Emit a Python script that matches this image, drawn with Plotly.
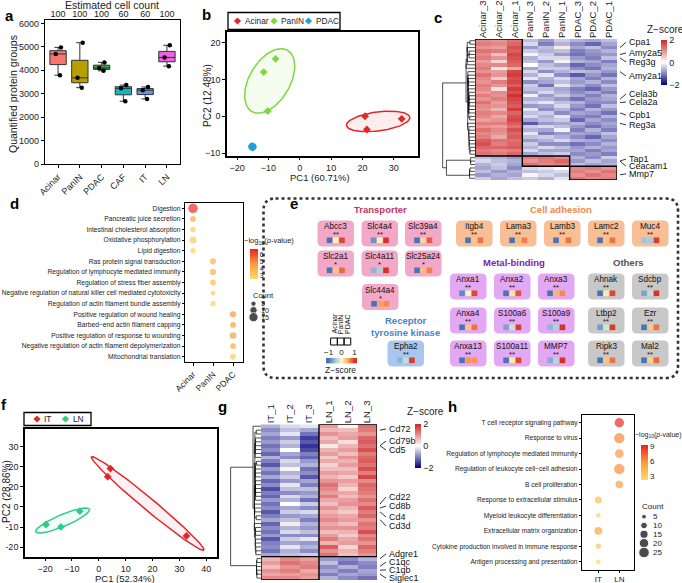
import numpy as np
import plotly.graph_objects as go

W, H = 682, 583
FONT = "Liberation Sans, Arial, Helvetica, sans-serif"

# ======================= DATA =======================
# (a) quantified protein groups
cell_types = ["Acinar", "PanIN", "PDAC", "CAF", "IT", "LN"]
cell_counts = ["100", "100", "100", "60", "60", "100"]
pg_acinar = [3790, 4700, 4980]
pg_panin = [3260, 3680, 5180]
pg_pdac = [3980, 4100, 4340]
pg_caf = [2680, 3230, 3370]
pg_it = [2780, 3150, 3290]
pg_ln = [4180, 4550, 5070]

# (b) PCA Acinar / PanIN / PDAC
b_groups = ["Acinar", "PanIN", "PDAC"]
b_pc1_acinar = [20.8, 21.4, 32.5]
b_pc2_acinar = [0.0, -3.6, -0.7]
b_pc1_panin = [-7.7, -11.5, -10.2]
b_pc2_panin = [15.6, 12.0, 1.4]
b_pc1_pdac = [-15.3, -15.0, -14.9]
b_pc2_pdac = [-8.1, -8.5, -8.2]
b_ell_center = [(25.0, -1.4), (-9.6, 9.6), (-15.1, -8.3)]
b_ell_u = [(10.1, 1.0), (8.0, 4.0), (1.1, 0.0)]
b_ell_v = [(0.0, 2.6), (0.0, 7.8), (0.0, 0.9)]

# (c) heatmap z-scores (rows x samples)
c_samples = ["Acinar_3", "Acinar_2", "Acinar_1", "PanIN_3", "PanIN_2", "PanIN_1", "PDAC_3", "PDAC_2", "PDAC_1"]
heat_c = [
    [1.1, 1.0, 1.3, -0.5, -0.8, -0.4, -0.6, -0.7, -0.5],
    [1.2, 1.1, 1.4, -0.3, -1.0, -0.6, -0.9, -1.2, -0.7],
    [1.0, 0.9, 1.6, -0.8, -0.5, 0.2, -0.7, -0.5, -0.9],
    [1.3, 1.2, 1.5, -0.4, -0.6, -0.5, -1.0, -0.8, -0.6],
    [1.1, 0.6, 1.7, -0.1, -0.4, -0.8, -1.1, -0.9, -0.8],
    [1.2, 1.0, 1.6, -0.6, -0.3, -0.3, -0.8, -1.0, -0.5],
    [0.9, 0.4, 1.5, -0.5, -0.8, -0.1, -0.6, -0.7, -1.0],
    [1.1, 1.1, 1.4, 0.0, -0.5, -0.7, -1.2, -0.9, -0.7],
    [1.2, 0.2, 0.8, -0.7, -0.4, -0.4, -0.9, -1.1, -0.6],
    [1.0, 0.9, 1.7, -0.3, -0.9, -0.6, -0.5, -0.6, -0.8],
    [1.3, 1.0, 1.8, -0.6, -0.2, -0.9, -1.3, -0.8, -1.1],
    [1.1, 0.5, 1.6, -0.2, -0.6, -0.3, -0.7, -1.0, -0.6],
    [1.0, 1.2, 1.7, -0.9, -0.7, -0.5, -0.8, -0.6, -0.9],
    [1.2, 1.0, 1.5, -0.4, -1.1, -0.2, -0.6, -0.9, -0.5],
    [1.1, 0.3, 1.8, -0.5, -0.5, -0.7, -1.0, -1.2, -0.8],
    [0.9, 1.1, 1.6, -0.7, -0.3, -0.6, -0.9, -0.7, -1.0],
    [1.2, 1.0, 1.9, -0.1, -0.8, -0.4, -0.7, -1.0, -0.6],
    [1.0, 1.2, 1.7, -0.6, -0.6, -0.8, -1.1, -0.8, -0.7],
    [1.3, 0.9, 1.6, -0.4, -0.2, -0.5, -0.6, -0.9, -0.9],
    [1.1, 1.0, 1.5, -0.8, -0.7, -0.3, -0.8, -1.1, -0.5],
    [1.0, 0.7, 1.8, -0.2, -0.9, -0.6, -1.0, -0.6, -0.8],
    [1.2, 1.1, 1.4, -0.5, -0.4, -0.9, -0.7, -0.8, -1.1],
    [1.1, 0.8, 1.6, -0.3, -0.6, -0.2, -0.9, -1.0, -0.6],
    [0.9, 1.0, 1.7, -0.7, -0.5, -0.4, -1.2, -0.7, -0.9],
    [1.2, 1.2, 1.5, -1.3, -0.8, -0.7, -0.6, -0.9, -0.7],
    [1.0, 0.9, 1.3, -0.4, -0.3, -0.5, -0.8, -1.1, -0.8],
    [1.3, 1.1, 1.6, -0.6, -0.7, -0.1, -1.0, -0.6, -1.0],
    [1.1, 1.0, 1.4, -0.2, -1.0, -0.8, -0.7, -0.8, -0.5],
    [1.2, 0.8, 1.5, -0.5, -0.4, -0.6, -0.9, -1.2, -0.7],
    [1.5, 1.3, 1.3, -0.8, -0.6, -0.3, -0.6, -0.7, -0.9],
    [1.6, 1.2, 1.4, -0.4, -0.9, -0.9, -1.1, -0.9, -0.6],
    [1.4, 1.4, 1.5, -0.6, -0.3, -0.5, -0.8, -0.6, -0.8],
    [1.2, 1.1, 1.2, -0.3, -0.7, -0.7, -0.7, -1.0, -0.7],
    [1.3, 1.2, 1.4, -0.7, -0.5, -0.4, -0.9, -0.8, -1.0],
    [-0.5, -0.6, -0.8, 1.2, 1.3, 1.1, -0.6, -0.9, -0.4],
    [-0.3, -0.5, -0.6, 1.0, 1.2, 1.4, -0.8, -0.5, -0.7],
    [-0.6, -0.4, -0.7, 1.3, 1.1, 1.2, -0.5, -0.7, -0.6],
    [-0.7, -0.5, -0.9, -0.3, -0.2, 0.0, 1.1, 1.2, 1.0],
    [-0.5, -0.8, -0.6, -0.5, -0.4, -0.3, 1.2, 1.0, 1.3],
    [-0.8, -0.6, -0.7, 0.1, -0.3, -0.5, 1.0, 1.3, 1.1],
    [-0.4, -0.7, -0.5, -0.4, -0.6, -0.2, 1.3, 1.1, 1.2],
]
c_genes = ["Cpa1", "Amy2a5", "Reg3g", "Amy2a1", "Cela3b", "Cela2a", "Cpb1", "Reg3a", "Tap1", "Ceacam1", "Mmp7"]
c_gene_rows = [2, 4, 5, 9, 17, 18, 21, 24, 35, 35, 39]
c_cluster_rows = [34, 3, 4]          # Acinar, PanIN, PDAC up-regulated blocks

# (d) enrichment dot plot
d_terms = ["Digestion", "Pancreatic juice secretion", "Intestinal cholesterol absorption",
           "Oxidative phosphorylation", "Lipid digestion", "Ras protein signal transduction",
           "Regulation of lymphocyte mediated immunity", "Regulation of stress fiber assembly",
           "Negative regulation of natural killer cell mediated cytotoxicity",
           "Regulation of actin filament bundle assembly", "Positive regulation of wound healing",
           "Barbed\u2212end actin filament capping", "Positive regulation of response to wounding",
           "Negative regulation of actin filament depolymerization", "Mitochondrial translation"]
d_group = ["Acinar", "Acinar", "Acinar", "Acinar", "Acinar", "PanIN", "PanIN", "PanIN", "PanIN", "PanIN",
           "PDAC", "PDAC", "PDAC", "PDAC", "PDAC"]
d_logp = [6.6, 4.2, 3.3, 3.2, 2.9, 4.0, 4.0, 3.6, 3.2, 3.0, 4.8, 4.6, 4.6, 4.2, 3.2]
d_count = [16, 6, 5, 9, 5, 7, 7, 6, 4, 5, 7, 6, 8, 6, 6]
d_count_legend = [5, 10, 15]

# (e) marker proteins: z-scores in Acinar / PanIN / PDAC
e_genes = ["Abcc3", "Slc4a4", "Slc39a4", "Slc2a1", "Slc4a11", "Slc25a24", "Slc44a4", "Epha2",
           "Itgb4", "Lama3", "Lamb3", "Lamc2", "Muc4",
           "Anxa1", "Anxa2", "Anxa3", "Anxa4", "S100a6", "S100a9", "Anxa13", "S100a11", "MMP7",
           "Ahnak", "Sdcbp", "Ltbp2", "Ezr", "Ripk3", "Mal2"]
e_signif = ["**", "**", "**", "*", "*", "*", "*", "**",
            "**", "**", "**", "**", "**",
            "**", "**", "**", "**", "**", "**", "**", "**", "**",
            "**", "**", "**", "**", "**", "**"]
e_acinar = [-1.0, -0.8, -1.0, -1.0, -0.6, -1.0, -1.1, -0.6,
            -1.0, -1.0, -1.0, -1.0, -0.5,
            -0.85, -1.0, -1.0, -1.0, -0.7, -0.6, -1.1, -1.0, -0.65,
            -1.0, -0.7, -0.75, -1.0, -1.0, -1.0]
e_panin = [0.05, 0.05, 0.2, 0.3, -0.4, 0.35, 0.5, -0.3,
           0.3, 0.35, 0.3, 0.3, -0.45,
           -0.05, 0.15, 0.4, 0.3, -0.25, -0.4, 0.55, 0.1, -0.35,
           0.1, -0.3, -0.2, 0.3, 0.3, 0.25]
e_pdac = [0.9, 1.0, 0.8, 0.75, 1.0, 0.65, 0.6, 0.95,
          0.7, 0.65, 0.7, 0.7, 0.95,
          0.9, 0.85, 0.6, 0.7, 0.95, 1.0, 0.55, 0.9, 1.0,
          0.9, 1.0, 0.95, 0.7, 0.7, 0.75]
e_class = ["Transporter"] * 7 + ["Receptor tyrosine kinase"] + ["Cell adhesion"] * 5 + \
          ["Metal-binding"] * 9 + ["Others"] * 6

# (f) PCA IT / LN
f_groups = ["IT", "LN"]
f_pc1_it = [4.3, 3.3, 32.6]
f_pc2_it = [19.0, 15.0, -14.4]
f_pc1_ln = [-19.7, -14.1, -7.1]
f_pc2_ln = [-8.7, -9.9, -2.1]
f_ell_center = [(18.2, 1.7), (-13.5, -6.75)]
f_ell_u = [(20.9, -23.1), (10.0, 5.6)]
f_ell_v = [(1.4, 2.3), (-0.87, 2.7)]
f_yticktext = ["-20", "-10", "0", "20", "20", "30"]

# (g) heatmap IT / LN
g_samples = ["IT_1", "IT_2", "IT_3", "LN_1", "LN_2", "LN_3"]
heat_g = [
    [-0.6, -0.3, -0.2, 0.9, 0.1, 1.3],
    [-0.9, -0.5, -0.7, 0.7, 0.6, 1.2],
    [-0.7, -0.2, -1.1, 1.0, 0.8, 1.0],
    [-1.0, -0.8, -1.5, 0.6, 0.9, 1.4],
    [-0.8, -0.4, -1.3, 0.8, 0.3, 1.5],
    [-1.1, -0.6, -1.6, 0.2, 0.7, 1.3],
    [-0.9, 0.0, -1.4, 0.7, 0.9, 1.6],
    [-1.2, -0.7, -1.0, 0.9, 0.6, 1.2],
    [-0.6, -0.9, -1.2, 0.5, 1.0, 1.4],
    [-1.0, -0.3, -0.8, 0.8, 0.7, 1.5],
    [-1.3, -0.5, -0.6, 0.4, 0.9, 1.3],
    [-0.8, 0.1, -1.1, 0.6, 0.6, 1.6],
    [-1.1, -0.6, -0.9, 0.9, 0.8, 1.2],
    [-0.7, -0.4, -1.3, 0.7, 0.5, 1.7],
    [-1.2, -0.8, -0.7, 1.0, 0.9, 1.1],
    [-0.9, -0.2, -1.0, 1.3, 0.7, 1.4],
    [-1.4, -0.5, -0.5, 1.1, 0.4, 1.3],
    [-1.0, -0.9, -0.8, 0.9, 0.8, 1.2],
    [-1.2, -0.3, -0.6, 1.2, 0.6, 1.0],
    [-0.8, -0.6, -1.1, 0.8, 0.9, 1.3],
    [-1.1, 0.0, -0.4, 0.6, 1.0, 1.1],
    [-0.9, -0.7, -0.9, 1.0, 0.7, 1.5],
    [-1.3, -0.4, -0.3, 0.7, 0.5, 1.2],
    [-1.0, -0.8, -0.7, 0.9, 0.8, 1.4],
    [-0.7, -0.5, -1.0, 1.1, 0.9, 1.0],
    [-1.2, 0.2, -0.6, 0.8, 0.6, 1.3],
    [-0.9, -0.6, -0.8, 1.0, 1.0, 1.2],
    [-1.1, -0.3, -0.5, 0.6, 0.7, 1.6],
    [-0.8, -0.9, -0.9, 0.9, 0.5, 1.1],
    [-1.3, -0.4, -0.2, 1.2, 0.8, 1.3],
    [-1.0, -0.7, -0.8, 0.7, 0.9, 1.0],
    [-0.9, -0.2, -0.6, 1.5, 0.4, 1.4],
    [-1.1, -0.6, -0.9, 1.0, 0.7, 1.2],
    [-0.7, -0.5, -0.4, 1.3, 0.6, 1.0],
    [0.7, 1.1, 0.9, -0.8, -0.9, -0.6],
    [0.9, 1.3, 1.1, -0.5, -1.1, -0.9],
    [0.6, 1.0, 1.2, -0.9, -0.6, -1.0],
    [1.0, 1.2, 0.8, -0.7, -1.0, -0.7],
    [0.8, 0.9, 1.0, -1.0, -0.7, -0.8],
    [1.1, 1.1, 0.9, -0.6, -0.9, -1.1],
]
g_genes = ["Cd72", "Cd79b", "Cd5", "Cd22", "Cd8b", "Cd4", "Cd3d", "Adgre1", "C1qc", "C1qb", "Siglec1"]
g_gene_rows = [1, 5, 5, 20, 21, 22, 24, 34, 36, 37, 38]
g_cluster_rows = [34, 6]             # LN up (top), IT up (bottom)

# (h) enrichment dot plot IT / LN
h_terms = ["T cell receptor signaling pathway", "Response to virus",
           "Regulation of lymphocyte mediated immunity", "Regulation of leukocyte cell\u2212cell adhesion",
           "B cell proliferation", "Response to extracellular stimulus", "Myeloid leukocyte differentiation",
           "Extracellular matrix organization", "Cytokine production involved in immune response",
           "Antigen processing and presentation"]
h_group = ["LN", "LN", "LN", "LN", "LN", "IT", "IT", "IT", "IT", "IT"]
h_logp = [9.0, 6.3, 5.8, 6.1, 5.5, 3.9, 2.9, 5.3, 3.4, 2.6]
h_count = [20, 24, 17, 25, 13, 11, 5, 14, 7, 5]
h_count_legend = [5, 10, 15, 20, 25]

# ======================= HELPERS =======================
def dx(l, r):
    return [l / W, r / W]


def dy(t, b):
    return [1 - b / H, 1 - t / H]


def rgba(hexc, a):
    h = hexc.lstrip("#")
    return f"rgba({int(h[0:2], 16)},{int(h[2:4], 16)},{int(h[4:6], 16)},{a})"


ann = []
shapes = []


def text(x, y, s, size=9, color="#222222", bold=False, xanchor="center", yanchor="middle", angle=0, xref="x12", yref="y12"):
    if bold:
        s = f"<b>{s}</b>"
    ann.append(dict(x=x, y=y, xref=xref, yref=yref, text=s, showarrow=False,
                    font=dict(family=FONT, size=size, color=color),
                    xanchor=xanchor, yanchor=yanchor, textangle=angle))


def rrect(x0, y0, x1, y1, r):
    return (f"M{x0 + r},{y0} L{x1 - r},{y0} Q{x1},{y0} {x1},{y0 + r} L{x1},{y1 - r} Q{x1},{y1} {x1 - r},{y1} "
            f"L{x0 + r},{y1} Q{x0},{y1} {x0},{y1 - r} L{x0},{y0 + r} Q{x0},{y0} {x0 + r},{y0} Z")


def dendro(Z):
    Z = np.asarray(Z, float)
    n = len(Z)
    D = np.sqrt(((Z[:, None, :] - Z[None, :, :]) ** 2).sum(-1))
    clusters = [([i], float(i), 0.0) for i in range(n)]
    xs, ys = [], []
    while len(clusters) > 1:
        bk, bd = 0, np.inf
        for k in range(len(clusters) - 1):
            d = D[np.ix_(clusters[k][0], clusters[k + 1][0])].mean()
            if d < bd:
                bk, bd = k, d
        a, b = clusters[bk], clusters[bk + 1]
        h = max(bd, a[2], b[2])
        xs += [a[2], h, h, b[2], None]
        ys += [a[1], a[1], b[1], b[1], None]
        clusters[bk:bk + 2] = [(a[0] + b[0], (a[1] + b[1]) / 2, h)]
    return xs, ys, clusters[0][2]


def frame_axis(**kw):
    base = dict(showline=True, linecolor="black", linewidth=1.3, mirror=True, ticks="outside", ticklen=3,
                tickwidth=1, tickcolor="black", showgrid=False, zeroline=False,
                tickfont=dict(family=FONT, size=9, color="#222222"))
    base.update(kw)
    return base


hidden = dict(visible=False, showgrid=False, zeroline=False)
hm_scale = [[0, "#000080"], [0.5, "#FFFFFF"], [1, "#CD2626"]]
dot_scale = [[0, "#FFDA6A"], [0.5, "#FB9A3C"], [1, "#EE1F1F"]]
e_scale = [[0, "#4575B4"], [0.25, "#9CC5E3"], [0.5, "#FFFBC2"], [0.75, "#FCA05A"], [1, "#D73027"]]

fig = go.Figure()

# ======================= (a) =======================
box_cols = ["#F8766D", "#B79F00", "#2EA84A", "#13B8BC", "#5F96F0", "#EE63E0"]
pg_all = [pg_acinar, pg_panin, pg_pdac, pg_caf, pg_it, pg_ln]
for name, vals, col in zip(cell_types, pg_all, box_cols):
    fig.add_trace(go.Box(x=[name] * len(vals), y=vals, fillcolor=col, line=dict(color="#333333", width=1),
                         boxpoints="all", jitter=0.45, pointpos=0, marker=dict(color="black", size=4.5),
                         width=0.75, whiskerwidth=0.45, quartilemethod="inclusive",
                         xaxis="x", yaxis="y", showlegend=False, hoverinfo="skip"))
fig.add_trace(go.Scatter(x=list(range(len(cell_types))), y=[0] * len(cell_types), xaxis="x2", yaxis="y",
                         mode="markers", marker=dict(opacity=0), showlegend=False, hoverinfo="skip"))

# ======================= (b) =======================
b_cols = ["#E3262B", "#7DD83F", "#1FA0D8"]
b_pc1 = [b_pc1_acinar, b_pc1_panin, b_pc1_pdac]
b_pc2 = [b_pc2_acinar, b_pc2_panin, b_pc2_pdac]
t = np.linspace(0, 2 * np.pi, 120)
for i, col in enumerate(b_cols):
    c, u, v = b_ell_center[i], b_ell_u[i], b_ell_v[i]
    fig.add_trace(go.Scatter(x=c[0] + u[0] * np.cos(t) + v[0] * np.sin(t),
                             y=c[1] + u[1] * np.cos(t) + v[1] * np.sin(t),
                             mode="lines", line=dict(color=col, width=1.5), fill="toself",
                             fillcolor=rgba(col, 0.08), xaxis="x3", yaxis="y3", showlegend=False, hoverinfo="skip"))
for i, col in enumerate(b_cols):
    fig.add_trace(go.Scatter(x=b_pc1[i], y=b_pc2[i], mode="markers",
                             marker=dict(symbol="diamond", size=6, color=col),
                             xaxis="x3", yaxis="y3", showlegend=False, hoverinfo="skip"))
# manual legend for b
shapes.append(dict(type="rect", xref="x12", yref="y12", x0=228, x1=340, y0=12.5, y1=29.5,
                   line=dict(color="black", width=1.3)))
b_leg_x = [237.5, 274, 308.5]
fig.add_trace(go.Scatter(x=b_leg_x, y=[21] * 3, mode="markers", marker=dict(symbol="diamond", size=5.5, color=b_cols),
                         xaxis="x12", yaxis="y12", showlegend=False, hoverinfo="skip"))
for xx, g in zip(b_leg_x, b_groups):
    text(xx + 5, 21, g, size=8.3, xanchor="left")

# ======================= (c) =======================
nc = len(heat_c)
fig.add_trace(go.Heatmap(z=heat_c, x=list(range(len(c_samples))), y=list(range(nc)), colorscale=hm_scale,
                         zmin=-2, zmax=2, xaxis="x4", yaxis="y4", hoverinfo="skip",
                         colorbar=dict(x=661 / W, xanchor="left", y=1 - 62.5 / H, yanchor="middle", len=45,
                                       lenmode="pixels", thickness=6, xpad=0, ypad=0, outlinewidth=0,
                                       tickvals=[-2, 0, 2], ticks="", tickfont=dict(family=FONT, size=9))))
dxs, dys, hmax_c = dendro(heat_c)
fig.add_trace(go.Scatter(x=dxs, y=dys, mode="lines", line=dict(color="black", width=0.7),
                         xaxis="x5", yaxis="y5", showlegend=False, hoverinfo="skip"))
r0 = -0.5
for k, nr in enumerate(c_cluster_rows):
    shapes.append(dict(type="rect", xref="x4", yref="y4", x0=3 * k - 0.5, x1=3 * k + 2.5, y0=r0, y1=r0 + nr,
                       line=dict(color="black", width=1.4)))
    r0 += nr
c_label_y = [0.46, 3.57, 6.19, 10.26, 15.49, 17.82, 21.6, 24.5, 34.4, 36.5, 38.7]
for gname, gr, ly in zip(c_genes, c_gene_rows, c_label_y):
    shapes.append(dict(type="line", xref="paper", yref="y4", x0=620 / W, x1=626 / W, y0=gr, y1=ly,
                       line=dict(color="black", width=0.8)))
    text(627 / W, ly, gname, size=9, xanchor="left", xref="paper", yref="y4", color="#111111")
text(665, 29.5, "Z\u2212score", size=10)

# ======================= (d) =======================
fig.add_trace(go.Scatter(x=d_group, y=d_terms, mode="markers", xaxis="x6", yaxis="y6", showlegend=False,
                         hoverinfo="skip",
                         marker=dict(color=d_logp, colorscale=dot_scale, cmin=2.62, cmax=6.83, size=d_count,
                                     sizemode="area", sizeref=0.355, sizemin=1, line=dict(width=0),
                                     colorbar=dict(x=250 / W, xanchor="left", y=1 - 263.8 / H, yanchor="middle",
                                                   len=30, lenmode="pixels", thickness=8, xpad=0, ypad=0,
                                                   outlinewidth=0, tickvals=[3, 4, 5, 6], ticks="",
                                                   tickfont=dict(family=FONT, size=6.8)))))
text(242, 241, "\u2212log<sub>10</sub>(<i>p</i>-value)", size=7.5, xanchor="left")
text(251, 295, "Count", size=7.5, xanchor="left")
d_leg_y = [303.7, 310.2, 317.2]
fig.add_trace(go.Scatter(x=[253.5] * 3, y=d_leg_y, mode="markers", xaxis="x12", yaxis="y12", showlegend=False,
                         hoverinfo="skip",
                         marker=dict(color="black", size=d_count_legend, sizemode="area", sizeref=0.355, sizemin=1)))
for yy, cc in zip(d_leg_y, d_count_legend):
    text(259, yy, str(cc), size=7.2, xanchor="left")

# ======================= (e) =======================
e_box_x0 = [317.5, 361.5, 405, 317.5, 361.5, 405, 362, 387.5,
            456, 500, 544, 588, 632,
            450, 494, 538, 450, 494, 538, 450, 494, 538,
            588, 632, 588, 632, 588, 632]
e_box_y0 = [220.5, 220.5, 220.5, 250.5, 250.5, 250.5, 284, 340.5,
            220.5, 220.5, 220.5, 220.5, 220.5,
            273.5, 273.5, 273.5, 307.5, 307.5, 307.5, 340.5, 340.5, 340.5,
            273.5, 273.5, 307.5, 307.5, 340.5, 340.5]
e_fill = {"Transporter": "#F4A8C8", "Receptor tyrosine kinase": "#A9C6EE", "Cell adhesion": "#F8BE95",
          "Metal-binding": "#E2A8F3", "Others": "#C8C8C8"}
bw, bh = 36.5, 26
sq_x, sq_y, sq_v = [], [], []
for i, gname in enumerate(e_genes):
    x0, y0 = e_box_x0[i], e_box_y0[i]
    shapes.append(dict(type="path", xref="x12", yref="y12", path=rrect(x0, y0, x0 + bw, y0 + bh, 5),
                       fillcolor=e_fill[e_class[i]], line=dict(width=0), layer="below"))
    cx = x0 + bw / 2
    text(cx, y0 + 6.3, gname, size=8.2, color="#111111")
    text(cx, y0 + 14.4, e_signif[i], size=7.6, color="#111111")
    for j, v in enumerate([e_acinar[i], e_panin[i], e_pdac[i]]):
        sq_x.append(cx + (j - 1) * 6.2)
        sq_y.append(y0 + 19.8)
        sq_v.append(v)
fig.add_trace(go.Scatter(x=sq_x, y=sq_y, mode="markers", xaxis="x12", yaxis="y12", showlegend=False,
                         hoverinfo="skip",
                         marker=dict(symbol="square", size=5.6, color=sq_v, colorscale=e_scale, cmin=-1, cmax=1,
                                     line=dict(width=0))))
shapes.append(dict(type="path", xref="x12", yref="y12", path=rrect(263.5, 198.5, 678, 378, 12),
                   line=dict(color="#333333", width=2.6, dash="dot"), layer="below"))
text(380, 209, "Transporter", size=9.5, color="#C7345E", bold=True)
text(561, 209, "Cell adhesion", size=9.5, color="#EE8A45", bold=True)
text(514, 262, "Metal-binding", size=9.5, color="#7D22B0", bold=True)
text(628, 262, "Others", size=9.5, color="#555555", bold=True)
text(405, 326, "Receptor<br>tyrosine kinase", size=9.5, color="#4A7FC8", bold=True)
# e legend
for j, g in enumerate(b_groups):
    xx = 334 + j * 6.7
    shapes.append(dict(type="rect", xref="x12", yref="y12", x0=xx - 3.35, x1=xx + 3.35, y0=338, y1=345,
                       line=dict(color="black", width=1)))
    text(xx, 336, g, size=7, angle=-90, yanchor="bottom", color="#111111")
grad_x = np.linspace(-1.2, 1.2, 60)
fig.add_trace(go.Heatmap(z=[grad_x], x=grad_x, y=[0], colorscale=e_scale, zmin=-1, zmax=1, showscale=False,
                         xaxis="x11", yaxis="y11", hoverinfo="skip"))
text(340, 370, "Z\u2212score", size=8.5)

# ======================= (f) =======================
f_cols = ["#E3262B", "#2ECC85"]
f_pc1 = [f_pc1_it, f_pc1_ln]
f_pc2 = [f_pc2_it, f_pc2_ln]
for i, col in enumerate(f_cols):
    c, u, v = f_ell_center[i], f_ell_u[i], f_ell_v[i]
    fig.add_trace(go.Scatter(x=c[0] + u[0] * np.cos(t) + v[0] * np.sin(t),
                             y=c[1] + u[1] * np.cos(t) + v[1] * np.sin(t),
                             mode="lines", line=dict(color=col, width=1.5), fill="toself",
                             fillcolor=rgba(col, 0.06), xaxis="x7", yaxis="y7", showlegend=False, hoverinfo="skip"))
for i, col in enumerate(f_cols):
    fig.add_trace(go.Scatter(x=f_pc1[i], y=f_pc2[i], mode="markers",
                             marker=dict(symbol="diamond", size=6, color=col),
                             xaxis="x7", yaxis="y7", showlegend=False, hoverinfo="skip"))
shapes.append(dict(type="rect", xref="x12", yref="y12", x0=24, x1=91, y0=412.5, y1=425.5,
                   line=dict(color="black", width=1.3)))
f_leg_x = [37, 65.5]
fig.add_trace(go.Scatter(x=f_leg_x, y=[419] * 2, mode="markers", marker=dict(symbol="diamond", size=5.5, color=f_cols),
                         xaxis="x12", yaxis="y12", showlegend=False, hoverinfo="skip"))
for xx, g in zip(f_leg_x, f_groups):
    text(xx + 5, 419, g, size=8.3, xanchor="left")

# ======================= (g) =======================
ng = len(heat_g)
fig.add_trace(go.Heatmap(z=heat_g, x=list(range(len(g_samples))), y=list(range(ng)), colorscale=hm_scale,
                         zmin=-2, zmax=2, xaxis="x8", yaxis="y8", hoverinfo="skip",
                         colorbar=dict(x=415 / W, xanchor="left", y=1 - 446 / H, yanchor="middle", len=44,
                                       lenmode="pixels", thickness=6, xpad=0, ypad=0, outlinewidth=0,
                                       tickvals=[-2, 0, 2], ticks="", tickfont=dict(family=FONT, size=9))))
gxs, gys, hmax_g = dendro(heat_g)
fig.add_trace(go.Scatter(x=gxs, y=gys, mode="lines", line=dict(color="black", width=0.7),
                         xaxis="x9", yaxis="y9", showlegend=False, hoverinfo="skip"))
shapes.append(dict(type="rect", xref="x8", yref="y8", x0=2.5, x1=5.5, y0=-0.5, y1=-0.5 + g_cluster_rows[0],
                   line=dict(color="black", width=1.4)))
shapes.append(dict(type="rect", xref="x8", yref="y8", x0=-0.5, x1=2.5, y0=-0.5 + g_cluster_rows[0],
                   y1=-0.5 + g_cluster_rows[0] + g_cluster_rows[1], line=dict(color="black", width=1.4)))
g_label_y = [0.71, 3.79, 6.1, 18.18, 20.5, 23.3, 25.6, 32.8, 34.9, 36.9, 39.0]
for gname, gr, ly in zip(g_genes, g_gene_rows, g_label_y):
    shapes.append(dict(type="line", xref="paper", yref="y8", x0=380 / W, x1=386 / W, y0=gr, y1=ly,
                       line=dict(color="black", width=0.8)))
    text(387 / W, ly, gname, size=9, xanchor="left", xref="paper", yref="y8", color="#111111")
text(405, 411, "Z\u2212score", size=10, xanchor="left")

# ======================= (h) =======================
fig.add_trace(go.Scatter(x=h_group, y=h_terms, mode="markers", xaxis="x10", yaxis="y10", showlegend=False,
                         hoverinfo="skip",
                         marker=dict(color=h_logp, colorscale=dot_scale, cmin=2.3, cmax=9.3, size=h_count,
                                     sizemode="area", sizeref=0.45, sizemin=1, line=dict(width=0),
                                     colorbar=dict(x=641 / W, xanchor="left", y=1 - 462.5 / H, yanchor="middle",
                                                   len=35, lenmode="pixels", thickness=7, xpad=0, ypad=0,
                                                   outlinewidth=0, tickvals=[3, 6, 9], ticks="",
                                                   tickfont=dict(family=FONT, size=8)))))
text(633, 435, "\u2212log<sub>10</sub>(<i>p</i>-value)", size=7, xanchor="left")
text(640, 506, "Count", size=8, xanchor="left")
h_leg_y = [516.7, 525.5, 534.3, 543.2, 552.5]
fig.add_trace(go.Scatter(x=[644] * 5, y=h_leg_y, mode="markers", xaxis="x12", yaxis="y12", showlegend=False,
                         hoverinfo="skip",
                         marker=dict(color="black", size=h_count_legend, sizemode="area", sizeref=0.45, sizemin=1)))
for yy, cc in zip(h_leg_y, h_count_legend):
    text(651, yy, str(cc), size=8, xanchor="left")

# ======================= titles & letters =======================
text(13, 94, "Quantified protein groups", size=10.5, angle=-90)
text(112, 5, "Estimated cell count", size=10.5)
text(320, 177.5, "PC1 (60.71%)", size=9.5)
text(207, 96, "PC2 (12.48%)", size=10, angle=-90)
text(125, 578.5, "PC1 (52.34%)", size=9.5)
text(6, 492, "PC2 (28.86%)", size=10, angle=-90)
for lt, xx, yy in [("a", 9, 15), ("b", 206, 14), ("c", 438, 17), ("d", 14, 203), ("e", 294, 203),
                   ("f", 4, 404), ("g", 222, 406), ("h", 452, 406)]:
    text(xx, yy, lt, size=15, bold=True, color="black")

# ======================= layout =======================
layout = dict(
    width=W, height=H, margin=dict(l=0, r=0, t=0, b=0, autoexpand=False),
    paper_bgcolor="white", plot_bgcolor="rgba(0,0,0,0)", showlegend=False,
    font=dict(family=FONT, color="#222222"),
    annotations=ann, shapes=shapes, template="none",
    # (a)
    xaxis=frame_axis(domain=dx(45, 180), anchor="y", type="category", categoryorder="array",
                     categoryarray=cell_types, range=[-0.6, 5.6], tickangle=-45),
    yaxis=frame_axis(domain=dy(20, 164), anchor="x", range=[0, 6150], tickvals=[0, 1000, 2000, 3000, 4000, 5000, 6000]),
    xaxis2=dict(overlaying="x", side="top", anchor="y", range=[-0.6, 5.6], tickvals=list(range(len(cell_types))),
                ticktext=cell_counts, ticks="", showline=False, showgrid=False, zeroline=False,
                tickfont=dict(family=FONT, size=9, color="#222222")),
    # (b)
    xaxis3=frame_axis(domain=dx(227, 418), anchor="y3", range=[-23.2, 37.7], tickvals=[-20, -10, 0, 10, 20, 30],
                      linewidth=1.6, ticklen=2),
    yaxis3=frame_axis(domain=dy(32, 156), anchor="x3", range=[-10.8, 22.9], tickvals=[-10, 0, 10, 20],
                      linewidth=1.6),
    # (c)
    xaxis4=dict(domain=dx(475, 617), anchor="y4", range=[-0.5, 8.5], side="top", tickvals=list(range(9)),
                ticktext=c_samples, tickangle=-90, ticks="", showline=False, showgrid=False, zeroline=False,
                tickfont=dict(family=FONT, size=9.5, color="#222222")),
    yaxis4=dict(domain=dy(39, 180), anchor="x4", range=[nc - 0.5, -0.5], **hidden),
    xaxis5=dict(domain=dx(442, 475), anchor="y5", range=[hmax_c * 1.02, 0], **hidden),
    yaxis5=dict(domain=dy(39, 180), anchor="x5", range=[nc - 0.5, -0.5], **hidden),
    # (d)
    xaxis6=frame_axis(domain=dx(185, 243), anchor="y6", type="category", categoryorder="array",
                      categoryarray=["Acinar", "PanIN", "PDAC"], range=[-0.4, 2.5], tickangle=-45,
                      tickfont=dict(family=FONT, size=8.5, color="#222222")),
    yaxis6=frame_axis(domain=dy(203, 362), anchor="x6", type="category", categoryorder="array",
                      categoryarray=d_terms, range=[14.5, -0.5], ticklen=2,
                      tickfont=dict(family=FONT, size=6.7, color="#222222")),
    # (f)
    xaxis7=frame_axis(domain=dx(25, 217), anchor="y7", range=[-27.5, 44], tickvals=[-20, -10, 0, 10, 20, 30, 40],
                      linewidth=1.6, ticklen=2),
    yaxis7=frame_axis(domain=dy(429, 557), anchor="x7", range=[-24.8, 38.6], tickvals=[-20, -10, 0, 10, 20, 30],
                      ticktext=f_yticktext, linewidth=1.6),
    # (g)
    xaxis8=dict(domain=dx(261, 377), anchor="y8", range=[-0.5, 5.5], side="top", tickvals=list(range(6)),
                ticktext=g_samples, tickangle=-90, ticks="", showline=False, showgrid=False, zeroline=False,
                tickfont=dict(family=FONT, size=9.5, color="#222222")),
    yaxis8=dict(domain=dy(424.3, 580), anchor="x8", range=[ng - 0.5, -0.5], **hidden),
    xaxis9=dict(domain=dx(230, 261), anchor="y9", range=[hmax_g * 1.02, 0], **hidden),
    yaxis9=dict(domain=dy(424.3, 580), anchor="x9", range=[ng - 0.5, -0.5], **hidden),
    # (h)
    xaxis10=frame_axis(domain=dx(582, 634), anchor="y10", type="category", categoryorder="array",
                       categoryarray=["IT", "LN"], range=[-0.78, 1.7], ticklen=2,
                       tickfont=dict(family=FONT, size=8, color="#222222")),
    yaxis10=frame_axis(domain=dy(415, 569.5), anchor="x10", type="category", categoryorder="array",
                       categoryarray=h_terms, range=[9.5, -0.5], ticklen=2,
                       tickfont=dict(family=FONT, size=6.6, color="#222222")),
    # (e) gradient legend
    xaxis11=dict(domain=dx(326, 357), anchor="y11", range=[-1.2, 1.2], side="top", tickvals=[-1, 0, 1],
                 ticks="", showline=False, showgrid=False, zeroline=False,
                 tickfont=dict(family=FONT, size=8, color="#222222")),
    yaxis11=dict(domain=dy(357.7, 363.5), anchor="x11", range=[-0.5, 0.5], **hidden),
    # pixel overlay
    xaxis12=dict(domain=[0, 1], anchor="y12", range=[0, W], **hidden),
    yaxis12=dict(domain=[0, 1], anchor="x12", range=[H, 0], **hidden),
)
fig.update_layout(**layout)
fig.write_html("out.html", config={"displayModeBar": False},
               post_script="document.body.style.margin='0';document.body.style.overflow='hidden';")
